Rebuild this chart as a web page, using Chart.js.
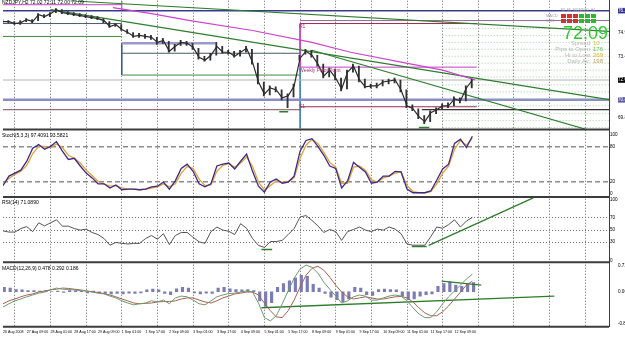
<!DOCTYPE html>
<html lang="en">
<head>
<meta charset="UTF-8">
<title>NZDJPY,H2</title>
<script src="https://cdn.jsdelivr.net/npm/chart.js"></script>
<style>
  body { margin: 0; background: #fff; }
  #wrap { position: relative; width: 625px; height: 337px; overflow: hidden; font-family: "Liberation Sans", Arial, sans-serif; }
  #wrap canvas { position: absolute; left: 0; top: -3px; }
  .t { position: absolute; white-space: nowrap; line-height: 1; font-size: 5px; color: #000; }
  .info { position: absolute; white-space: nowrap; line-height: 1; font-size: 6px; }
  .box { position: absolute; width: 5px; height: 4px; }
</style>
</head>
<body>
<div id="wrap">
  <canvas id="grafico" width="625" height="340"></canvas>

  <div class="t" style="left:2px;top:0px">NZDJPY,H2 72.02 72.11 72.00 72.09</div>
  <div class="t" style="left:2px;top:133px">Stoch(5,3,3) 97.4091 93.5821</div>
  <div class="t" style="left:2px;top:200px">RSI(14) 71.0890</div>
  <div class="t" style="left:2px;top:266px">MACD(12,26,9) 0.478 0.292 0.186</div>

  <div class="t" style="left:299px;top:24px;color:#b03080">R1</div>
  <div class="t" style="left:299px;top:68px;color:#b03080">Weekly Pivot Point</div>
  <div class="t" style="left:299px;top:104px;color:#a02850">S1</div>

  <div id="painel"></div>
</div>

<script>
// ---- dados ----
const timeLabels = ["26 Aug 2008", "27 Aug 09:00", "28 Aug 01:00", "28 Aug 17:00", "29 Aug 09:00",
  "1 Sep 01:00", "1 Sep 17:00", "2 Sep 09:00", "3 Sep 01:00", "3 Sep 17:00", "4 Sep 09:00",
  "5 Sep 01:00", "5 Sep 17:00", "8 Sep 09:00", "9 Sep 01:00", "9 Sep 17:00", "10 Sep 09:00",
  "11 Sep 01:00", "11 Sep 17:00", "12 Sep 09:00"];
const BARS_PER_LABEL = 8;
const BARS_PER_POINT = 2;
const GRID_FIRST = 4, GRID_STEP = 12, LAST_BAR = 204;

const closes = [75.63, 75.63, 75.51, 75.57, 75.75, 75.63, 76.05, 75.93, 76.11, 76.35,
  76.17, 76.11, 76.05, 75.99, 75.93, 75.87, 75.81, 75.69, 75.33, 75.45,
  75.15, 74.97, 74.73, 74.79, 74.73, 74.67, 74.37, 74.49, 73.83, 74.13,
  74.37, 74.31, 74.07, 73.47, 73.29, 73.59, 74.13, 73.77, 73.77, 73.53,
  73.77, 74.01, 73.17, 71.97, 71.25, 71.61, 71.49, 71.01, 71.13, 71.73,
  73.41, 73.83, 73.59, 73.05, 72.33, 72.69, 72.21, 71.55, 72.57, 72.93,
  72.09, 71.67, 71.73, 71.73, 71.97, 72.03, 72.09, 71.49, 70.53, 70.35,
  69.87, 69.57, 70.11, 70.29, 70.53, 70.53, 70.95, 70.83, 71.61, 72.09];
const lows = [75.51, 75.57, 75.45, 75.45, 75.63, 75.57, 75.69, 75.87, 75.93, 76.17,
  76.11, 76.05, 75.99, 75.93, 75.87, 75.81, 75.75, 75.57, 75.27, 75.33,
  75.09, 74.91, 74.67, 74.67, 74.61, 74.55, 74.25, 74.31, 73.77, 73.83,
  74.19, 74.19, 73.95, 73.35, 73.23, 73.29, 73.59, 73.71, 73.65, 73.47,
  73.53, 73.77, 73.05, 71.85, 71.13, 71.19, 71.37, 70.89, 70.41, 71.07,
  73.29, 73.65, 73.47, 72.93, 72.21, 72.27, 72.09, 71.43, 71.55, 72.57,
  71.97, 71.61, 71.61, 71.61, 71.73, 71.85, 71.91, 71.37, 70.41, 70.23,
  69.75, 69.45, 69.57, 70.05, 70.29, 70.41, 70.53, 70.71, 70.83, 71.61];
const highs = [75.75, 75.69, 75.63, 75.69, 75.81, 75.75, 76.11, 76.05, 76.17, 76.41,
  76.35, 76.23, 76.17, 76.11, 76.05, 75.99, 75.93, 75.81, 75.63, 75.51,
  75.45, 75.15, 74.97, 74.91, 74.85, 74.79, 74.67, 74.61, 74.43, 74.25,
  74.49, 74.43, 74.31, 74.01, 73.53, 73.71, 74.37, 74.13, 73.89, 73.83,
  73.89, 74.13, 73.95, 73.11, 71.97, 71.73, 71.67, 71.49, 71.25, 71.85,
  73.59, 73.95, 73.89, 73.59, 73.05, 72.81, 72.75, 72.21, 72.69, 73.05,
  72.93, 72.15, 71.85, 71.91, 72.09, 72.15, 72.21, 72.09, 71.49, 70.59,
  70.35, 69.93, 70.23, 70.41, 70.65, 70.71, 71.07, 71.01, 71.73, 72.15];

const maBars = [37, 50, 63, 84, 104, 117, 134, 148, 159];
const maPrices = [76.47, 76.11, 75.69, 75.09, 74.37, 73.77, 73.17, 72.69, 72.09];

const stochMain = [14, 30, 35, 40, 55, 77, 83, 75, 80, 88,
  72, 58, 60, 47, 35, 27, 17, 17, 10, 15,
  7, 8, 8, 7, 8, 12, 13, 20, 8, 22,
  43, 50, 38, 17, 12, 17, 47, 50, 52, 42,
  55, 67, 38, 13, 3, 20, 25, 18, 20, 30,
  72, 90, 93, 80, 65, 47, 43, 10, 22, 53,
  45, 37, 18, 20, 30, 30, 38, 37, 8, 2,
  2, 2, 5, 23, 42, 50, 85, 92, 78, 97];
const stochSignal = [18, 26, 33, 38, 48, 68, 80, 80, 78, 84,
  78, 65, 60, 52, 40, 31, 21, 17, 13, 14,
  10, 8, 8, 7, 8, 10, 12, 17, 12, 17,
  35, 46, 43, 25, 14, 15, 38, 48, 51, 45,
  52, 62, 46, 20, 7, 14, 22, 20, 20, 27,
  60, 82, 92, 85, 70, 53, 45, 18, 18, 45,
  47, 40, 24, 20, 27, 30, 35, 37, 14, 4,
  2, 2, 4, 17, 35, 47, 75, 90, 82, 94];

const rsi = [48.7, 46.7, 46.7, 52.5, 55.7, 47.5, 62, 57, 62, 67,
  56.5, 56.5, 52.5, 50, 51.6, 46, 42.6, 36, 25, 29.5,
  28, 27, 28, 28, 36, 41, 35, 44, 26, 41,
  46, 46, 38, 30.6, 28, 47.5, 55, 50, 48, 42.6,
  60.6, 53, 36, 24.6, 21.3, 31, 31, 33, 42.6, 52.5,
  71.6, 74, 66, 57, 46, 51, 47.5, 33, 47.5, 51,
  55, 50, 47.5, 51.6, 50, 55, 51.6, 44, 27, 25,
  25, 25, 39, 55, 53, 59, 67, 55, 65, 71];

const macdMain = [-0.42, -0.33, -0.25, -0.2, -0.14, -0.09, -0.04, -0.01, 0.05, 0.1,
  0.07, 0.06, 0.05, 0.03, 0.02, -0.01, -0.04, -0.06, -0.12, -0.17,
  -0.25, -0.31, -0.36, -0.33, -0.31, -0.25, -0.28, -0.23, -0.33, -0.17,
  -0.12, -0.14, -0.23, -0.33, -0.36, -0.25, -0.14, -0.09, -0.05, -0.04,
  -0.01, 0.02, -0.01, -0.31, -0.71, -0.8, -0.66, -0.33, 0.02, 0.37,
  0.62, 0.73, 0.67, 0.51, 0.26, 0.07, -0.12, -0.31, -0.25, -0.14,
  -0.09, -0.12, -0.23, -0.23, -0.17, -0.12, -0.09, -0.12, -0.25, -0.44,
  -0.61, -0.71, -0.71, -0.55, -0.33, -0.14, 0.02, 0.18, 0.35, 0.48];
const macdSignal = [-0.33, -0.25, -0.2, -0.14, -0.09, -0.06, -0.01, 0.02, 0.05, 0.07,
  0.1, 0.09, 0.07, 0.05, 0.02, 0.0, -0.02, -0.05, -0.09, -0.14,
  -0.2, -0.25, -0.31, -0.33, -0.32, -0.31, -0.28, -0.27, -0.27, -0.25,
  -0.2, -0.17, -0.17, -0.23, -0.28, -0.31, -0.25, -0.17, -0.12, -0.06,
  -0.04, -0.01, -0.01, -0.09, -0.31, -0.52, -0.69, -0.71, -0.52, -0.23,
  0.13, 0.45, 0.64, 0.7, 0.59, 0.4, 0.18, -0.01, -0.14, -0.2,
  -0.17, -0.14, -0.17, -0.2, -0.2, -0.17, -0.14, -0.13, -0.17, -0.28,
  -0.44, -0.58, -0.66, -0.66, -0.55, -0.39, -0.2, -0.01, 0.18, 0.29];
const macdHist = [0.12, 0.1, 0.06, 0.05, 0.03, 0.03, 0.02, 0.03, 0.0, 0.02,
  -0.02, 0.03, 0.03, 0.02, -0.03, 0.02, -0.03, -0.05, -0.06, -0.05,
  -0.06, -0.04, -0.05, -0.03, 0.05, 0.07, 0.05, -0.05, -0.08, 0.08,
  0.12, 0.1, -0.03, -0.06, -0.04, -0.05, 0.1, 0.12, 0.08, 0.06,
  0.05, 0.06, 0.03, -0.25, -0.4, -0.3, 0.12, 0.22, 0.3, 0.38,
  0.45, 0.42, 0.2, 0.1, -0.05, -0.15, -0.22, -0.27, -0.2, 0.12,
  0.1, -0.08, -0.1, 0.06, 0.07, 0.06, 0.05, -0.12, -0.22, -0.2,
  -0.12, -0.08, -0.06, 0.15, 0.22, 0.27, 0.18, 0.15, 0.22, 0.25];

// niveis semanais (preco, barra inicial, barra final)
const lvlPrice = [76.29, 76.65, 75.51, 74.73, 72.09, 70.89, 70.29, 74.31, 73.71, 72.39, 75.69, 75.51, 72.87, 70.47, 70.29];
const lvlFrom  = [0, 0, 0, 0, 0, 0, 0, 40, 40, 40, 100, 100, 100, 100, 141];
const lvlTo    = [204, 40, 40, 40, 204, 204, 100, 71.5, 100, 100, 204, 159.5, 159.5, 159.5, 204];
const sepBar   = [40, 40, 100, 100];
const sepFrom  = [76.29, 74.31, 75.51, 72.87];
const sepTo    = [76.89, 72.39, 72.87, 69.15];
const fibPrices = [75.21, 74.79, 74.37, 73.95, 73.53, 73.11, 72.69, 72.27, 71.79, 71.37, 70.95, 70.53, 70.05, 69.63, 69.21];
const fibFrom = 148, fibTo = 204;
const lowMarks = [[93, 96, 70.17], [140, 143.5, 69.21]];
const priceTrends = [[[16, 76.35], [204, 70.90]], [[104, 73.89], [196.5, 69.09]], [[22.5, 76.89], [204, 75.03]]];

const rsiTrend = [[143.3, 24.6], [178.5, 103.3]];
const rsiMarks = [[87, 90.6, 18], [137.6, 142.6, 23]];
const macdTrends = [[[87, -0.44], [185.6, -0.12]], [[147.7, 0.29], [161, 0.18]]];

const priceTicks = [76.29, 75.69, 74.97, 74.25, 73.47, 72.75, 72.09, 71.31, 70.89, 70.47, 69.81, 69.21];
const priceHighlight = { 76.29: '#33338a', 72.09: '#000000', 70.89: '#5a5aa0' };
const stochTicks = [0, 20, 80, 100];
const rsiTicks = [0, 20, 30, 40, 50, 60, 70, 80, 100];
const macdTicks = [-0.879, 0, 0.726];
const macdTickText = ['-0.879', '0.00', '0.726'];

// painel de informacoes
const infoPrice = '72.09';
const infoRows = [['Spread', '10', '#d4c040'], ['Pips to Open', '176', '#5cc05c'], ['Hi to Low', '269', '#e0b020'], ['Daily Av.', '198', '#c0a060']];
const sigFrames = ['M1', 'M5', 'M15', 'M30', 'H1', 'H4'];
const sigRows = [['MACD', 'dddggg'], ['STR', 'dddggg']];

// ---- montagem ----
const serie = arr => arr.map((v, i) => ({ x: i * BARS_PER_POINT, y: v }));
const seg = (a, b, v) => [{ x: a, y: v }, { x: b, y: v }];

function linha(data, axis, color, width, extra) {
  return Object.assign({
    type: 'line', data, yAxisID: axis, borderColor: color, borderWidth: width,
    pointRadius: 0, tension: 0, fill: false, spanGaps: false
  }, extra || {});
}

const lvlStyle = [
  ['#3a3a8c', 1.5], ['#c040c0', 1], ['#4a5a6a', 1], ['#3c8c3c', 1], ['#b4b4b4', 1],
  ['#8c8cc8', 2.5], ['#7a4a5a', 1], ['#9a9ad0', 2.5], ['#4a5a6a', 1], ['#3c8c3c', 1],
  ['#8a6a8a', 1], ['#a02850', 1], ['#c040c0', 1], ['#a02850', 1], ['#000000', 1]
];
const sepStyle = [['#c040c0', 1], ['#3050a0', 1.5], ['#c040c0', 1], ['#2a7ab0', 1.5]];

const datasets = [];
datasets.push(linha(serie(closes), 'yP', '#2b2b2b', 1.2));
datasets.push({
  type: 'bar', yAxisID: 'yP', backgroundColor: '#333333', borderWidth: 0, barThickness: 1.2,
  data: lows.map((l, i) => ({ x: i * BARS_PER_POINT, y: [l, highs[i]] }))
});
datasets.push(linha(maBars.map((b, i) => ({ x: b, y: maPrices[i] })), 'yP', '#cc44cc', 1.2));
priceTrends.forEach(t => datasets.push(linha(t.map(p => ({ x: p[0], y: p[1] })), 'yP', '#2e7d2e', 1.2)));
lowMarks.forEach(m => datasets.push(linha(seg(m[0], m[1], m[2]), 'yP', '#2e7d2e', 1.5)));
const fibData = [];
fibPrices.forEach(p => { fibData.push(...seg(fibFrom, fibTo, p), { x: fibTo, y: null }); });
datasets.push(linha(fibData, 'yP', '#9fcf9f', 1, { borderDash: [1, 2] }));
lvlPrice.forEach((p, i) => datasets.push(linha(seg(lvlFrom[i], lvlTo[i], p), 'yP', lvlStyle[i][0], lvlStyle[i][1])));
sepBar.forEach((b, i) => datasets.push(linha([{ x: b, y: sepFrom[i] }, { x: b, y: sepTo[i] }], 'yP', sepStyle[i][0], sepStyle[i][1])));

datasets.push(linha(serie(stochMain), 'yS', '#3b2a88', 1.3));
datasets.push(linha(serie(stochSignal), 'yS', '#e5a133', 1.3));

datasets.push(linha(serie(rsi), 'yR', '#555555', 1));
datasets.push(linha(rsiTrend.map(p => ({ x: p[0], y: p[1] })), 'yR', '#2e7d2e', 1.3));
rsiMarks.forEach(m => datasets.push(linha(seg(m[0], m[1], m[2]), 'yR', '#2e7d2e', 1.5)));

datasets.push(linha(serie(macdMain), 'yM', '#6f9a6f', 1));
datasets.push(linha(serie(macdSignal), 'yM', '#a8624f', 1));
macdTrends.forEach(t => datasets.push(linha(t.map(p => ({ x: p[0], y: p[1] })), 'yM', '#2e7d2e', 1.3)));
datasets.push({
  type: 'bar', data: serie(macdHist), yAxisID: 'yM', backgroundColor: '#7b7bb5',
  barThickness: 2.5, borderWidth: 0
});

const bordasPaineis = {
  id: 'bordasPaineis',
  afterDraw(chart) {
    const { ctx, chartArea } = chart;
    ctx.save();
    ctx.strokeStyle = '#3c3c3c';
    ctx.lineWidth = 2;
    ['yP', 'yS', 'yR', 'yM'].forEach(id => {
      const s = chart.scales[id];
      ctx.beginPath();
      ctx.moveTo(chartArea.left, s.bottom);
      ctx.lineTo(chartArea.right, s.bottom);
      ctx.stroke();
    });
    ctx.restore();
  }
};

const tickFont = { size: 4.6, family: 'Liberation Sans, Arial, sans-serif' };
const timeFont = { size: 3.6, family: 'Liberation Sans, Arial, sans-serif' };
function eixoY(stackWeight, min, max, ticks, extra) {
  return Object.assign({
    type: 'linear', position: 'right', stack: 'mt', stackWeight, min, max,
    afterBuildTicks: s => { s.ticks = ticks.map(v => ({ value: v })); },
    afterFit: s => { s.width = 16; },
    grid: { display: false },
    border: { display: true, color: '#3c3c3c', width: 1 },
    ticks: { font: tickFont, color: '#000', padding: 1 }
  }, extra || {});
}

Chart.defaults.font.family = 'Liberation Sans, Arial, sans-serif';

new Chart(document.getElementById('grafico').getContext('2d'), {
  type: 'line',
  data: { datasets },
  options: {
    responsive: false,
    animation: false,
    events: [],
    layout: { padding: 0 },
    plugins: { legend: { display: false }, tooltip: { enabled: false } },
    scales: {
      x: {
        type: 'linear', min: 0, max: LAST_BAR, position: 'bottom', offset: false,
        afterBuildTicks: s => { s.ticks = timeLabels.map((t, i) => ({ value: i * BARS_PER_LABEL })); },
        grid: { display: false, offset: false, drawTicks: false }, border: { display: false },
        ticks: { autoSkip: false, maxRotation: 0, align: 'start', padding: 3, font: timeFont, color: '#000',
          callback: (v, i) => timeLabels[i] }
      },
      xg: {
        type: 'linear', min: 0, max: LAST_BAR, position: 'bottom', offset: false,
        afterBuildTicks: s => {
          const t = [];
          for (let b = GRID_FIRST; b <= LAST_BAR; b += GRID_STEP) t.push({ value: b });
          s.ticks = t;
        },
        ticks: { display: false },
        grid: { color: '#666', lineWidth: 1, drawTicks: false, offset: false, borderDash: [1, 2] },
        border: { display: false, dash: [1, 2] }
      },
      yP: eixoY(130, 69.09, 76.89, priceTicks, {
        ticks: {
          font: tickFont, padding: 1,
          callback: v => v.toFixed(2),
          color: c => priceHighlight[c.tick.value.toFixed(2)] ? '#fff' : '#000',
          showLabelBackdrop: c => !!priceHighlight[c.tick.value.toFixed(2)],
          backdropColor: c => priceHighlight[c.tick.value.toFixed(2)] || 'rgba(0,0,0,0)',
          backdropPadding: 0
        }
      }),
      yS: eixoY(68, -5, 108.3, stochTicks, {
        grid: { display: true, drawTicks: false, lineWidth: 1.5, borderDash: [5, 3],
          color: c => (c.tick && (c.tick.value === 20 || c.tick.value === 80)) ? '#8c8c8c' : 'rgba(0,0,0,0)' },
        border: { display: true, color: '#3c3c3c', width: 1, dash: [5, 3] }
      }),
      yR: eixoY(66, -3.3, 104.9, rsiTicks, {
        grid: { display: true, drawTicks: false, lineWidth: 1, borderDash: [1, 2],
          color: c => (c.tick && c.tick.value >= 20 && c.tick.value <= 80) ? '#777' : 'rgba(0,0,0,0)' },
        border: { display: true, color: '#3c3c3c', width: 1, dash: [1, 2] }
      }),
      yM: eixoY(65, -0.959, 0.807, macdTicks, {
        ticks: { font: tickFont, color: '#000', padding: 1, callback: (v, i) => macdTickText[i] }
      })
    }
  },
  plugins: [bordasPaineis]
});

// painel do canto superior direito
const painel = document.getElementById('painel');
let html = '<div class="info" style="right:17px;top:24px;font-size:18px;color:#33c633">' + infoPrice + '</div>';
infoRows.forEach((r, i) => {
  const top = 40 + i * 6;
  html += '<div class="info" style="right:35px;top:' + top + 'px;color:#b8b8b8">' + r[0] + '</div>';
  html += '<div class="info" style="left:593px;top:' + top + 'px;color:' + r[2] + '">' + r[1] + '</div>';
});
sigFrames.forEach((f, i) => {
  html += '<div class="t" style="left:' + (561 + i * 6) + 'px;top:9px;font-size:3px;color:#999">' + f + '</div>';
});
sigRows.forEach((r, j) => {
  html += '<div class="t" style="left:546px;top:' + (14 + j * 5) + 'px;font-size:4px;color:#999">' + r[0] + '</div>';
  r[1].split('').forEach((c, i) => {
    html += '<div class="box" style="left:' + (561 + i * 6) + 'px;top:' + (14 + j * 5) + 'px;background:' + (c === 'g' ? '#2fb52f' : '#cc3333') + '"></div>';
  });
});
painel.innerHTML = html;
</script>
</body>
</html>
